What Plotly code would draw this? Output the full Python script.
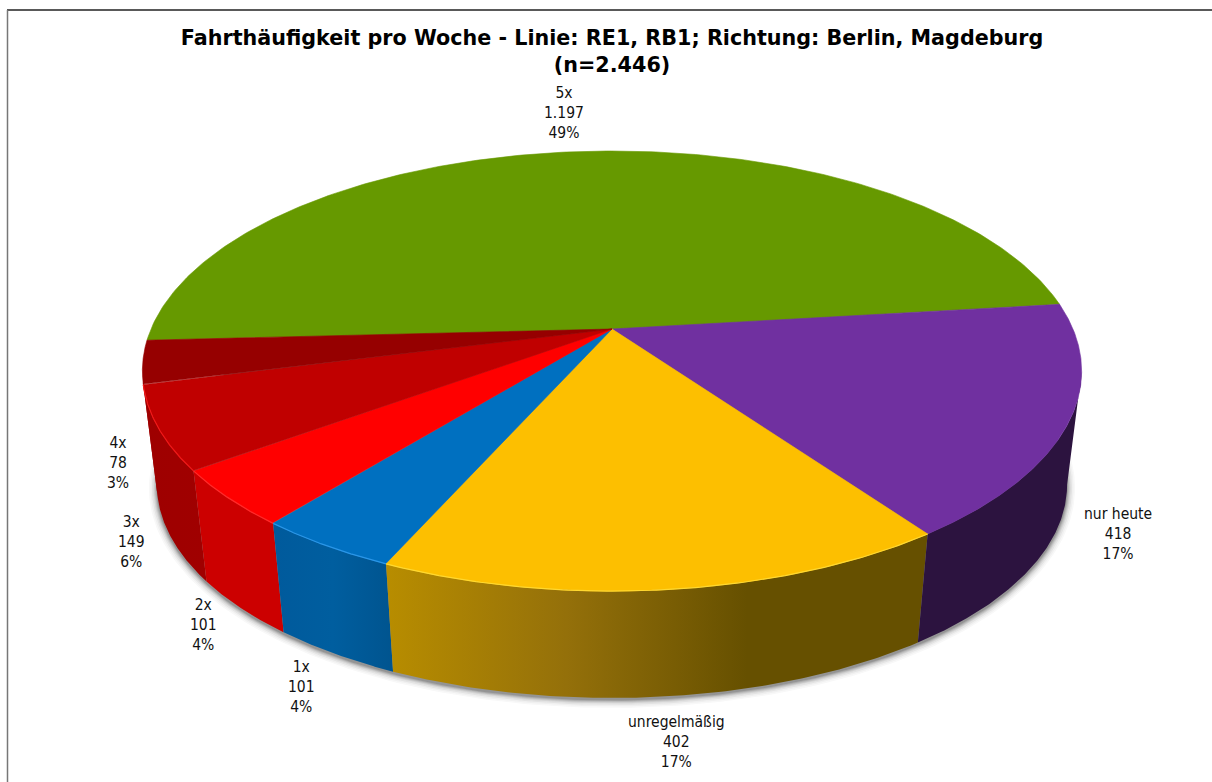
import numpy as np
import plotly.graph_objects as go

# ---- chart data -------------------------------------------------------
categories = ["5x", "nur heute", "unregelmäßig", "1x", "2x", "3x", "4x"]
values = [1197, 418, 402, 101, 101, 149, 78]
value_labels = ["1.197", "418", "402", "101", "101", "149", "78"]
percent_labels = ["49%", "17%", "17%", "4%", "4%", "6%", "3%"]
title_text = "Fahrthäufigkeit pro Woche - Linie: RE1, RB1; Richtung: Berlin, Magdeburg<br>(n=2.446)"

# ---- styles -----------------------------------------------------------
top_colors = ["#669900", "#7030A0", "#FDBF00", "#0070C0", "#FF0000", "#C00000", "#960000"]
rim_colors = ["#669900", "#7030A0", "#FFD830", "#2A96E8", "#FF2A2A", "#F01818", "#960000"]
side_scales = [
    ["#3D5C00", "#3D5C00"],
    ["#2C133F", "#2C133F"],
    ["#B88D00", "#94700A", "#665000", "#665000"],
    ["#005A9C", "#005E9F", "#00548F"],
    ["#CC0000", "#CC0000"],
    ["#9E0000", "#A00000"],
    ["#9E0000", "#9E0000"],
]
label_centers_x = [564, 1118, 676, 301, 203, 131, 118]
label_centers_y = [113, 534, 742, 687, 625, 542, 463]

# ---- perspective projection of the pie disc ---------------------------
CX, CY = 612, 329
A, B, K = 461, 212, -0.191
BOTTOM_CY, BOTTOM_SCALE = 444, 0.969
FIRST_ANGLE = -183.0  # degrees, screen clockwise from east
SIL_RIGHT = np.arcsin(-K)            # where the disc's rim turns away on the right
SIL_LEFT = np.pi - SIL_RIGHT         # ... and on the left


def project(theta, radius=1.0, bottom=False):
    u, v = radius * np.cos(theta), radius * np.sin(theta)
    w = 1 + K * v
    dx, dy = A * u / w, B * v / w
    if bottom:
        return CX + BOTTOM_SCALE * dx, BOTTOM_CY + BOTTOM_SCALE * dy
    return CX + dx, CY + dy


total = sum(values)
edges = np.radians(FIRST_ANGLE + np.concatenate([[0], np.cumsum(values)]) / total * 360)

fig = go.Figure()

# soft drop shadow under the disc
full = np.linspace(0, 2 * np.pi, 361)
for grow, alpha in [(8, 0.03), (6.5, 0.04), (5, 0.06), (3.5, 0.08), (2.5, 0.10), (1.5, 0.14), (0.5, 0.18)]:
    sx, sy = project(full, bottom=True)
    sx = CX + (sx - CX) * (1 + grow / 455)
    sy = BOTTOM_CY + (sy - BOTTOM_CY) * (1 + grow / 255) + 2
    fig.add_trace(go.Scatter(x=sx, y=sy, mode="lines", fill="toself", line=dict(width=0),
                             fillcolor=f"rgba(40,40,40,{alpha})", hoverinfo="skip"))

# side walls: only the part of the rim that faces the viewer
for i in range(len(values) - 1, -1, -1):
    lo, hi = max(edges[i], SIL_RIGHT), min(edges[i + 1], SIL_LEFT)
    if hi <= lo:
        continue
    th = np.linspace(lo, hi, 120)
    tx, ty = project(th)
    bx, by = project(th, bottom=True)
    scale = side_scales[i]
    cs = [[j / (len(scale) - 1), c] for j, c in enumerate(scale)]
    fig.add_trace(go.Scatter(
        x=np.concatenate([tx, bx[::-1]]), y=np.concatenate([ty, by[::-1]]),
        mode="lines", fill="toself", line=dict(width=0),
        fillgradient=dict(type="horizontal", colorscale=cs),
        hoverinfo="skip"))

# top face
for i, name in enumerate(categories):
    th = np.linspace(edges[i], edges[i + 1], 240)
    ox, oy = project(th)
    fig.add_trace(go.Scatter(
        x=np.concatenate([[CX], ox, [CX]]), y=np.concatenate([[CY], oy, [CY]]),
        mode="lines", fill="toself", fillcolor=top_colors[i],
        line=dict(width=0.6, color=top_colors[i]), name=name, hoverinfo="name"))

# rim highlight
for i in range(len(values)):
    if rim_colors[i] == top_colors[i]:
        continue
    th = np.linspace(edges[i], edges[i + 1], 120)
    ox, oy = project(th)
    fig.add_trace(go.Scatter(x=ox, y=oy, mode="lines", line=dict(width=1.2, color=rim_colors[i]),
                             hoverinfo="skip"))

# data labels
annotations = []
for name, val, pct, lx, ly in zip(categories, value_labels, percent_labels, label_centers_x, label_centers_y):
    annotations.append(dict(
        x=lx, y=ly, xref="x", yref="y", showarrow=False, align="center",
        text=f"{name}<br>{val}<br>{pct}",
        font=dict(family="DejaVu Sans Condensed, DejaVu Sans", size=15.5, color="#111111"),
    ))

fig.update_layout(
    width=1212, height=782, margin=dict(l=0, r=0, t=0, b=0),
    paper_bgcolor="white", plot_bgcolor="white", showlegend=False,
    xaxis=dict(range=[0, 1212], visible=False, fixedrange=True),
    yaxis=dict(range=[782, 0], visible=False, fixedrange=True),
    title=dict(text=title_text, x=0.505, xanchor="center", y=0.942, yanchor="top", yref="container",
               font=dict(family="DejaVu Sans", size=20.7, color="black", weight="bold")),
    annotations=annotations,
    shapes=[
        dict(type="line", x0=7, x1=1212, y0=10, y1=10, line=dict(color="#222222", width=1.5)),
        dict(type="line", x0=7.5, x1=7.5, y0=10, y1=782, line=dict(color="#777777", width=1.5)),
    ],
)

fig.write_html("out.html", config={"displayModeBar": False},
               post_script="document.body.style.margin='0';document.body.style.overflow='hidden';")
